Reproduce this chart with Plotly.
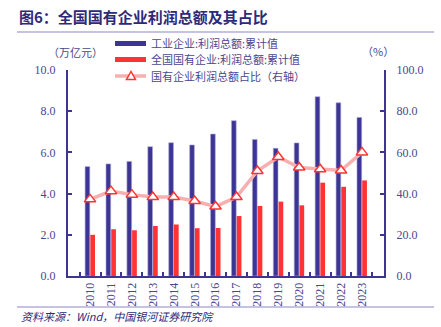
import plotly.graph_objects as go

years = [str(y) for y in range(2010, 2024)]
industrial_profit = [5.31, 5.44, 5.56, 6.28, 6.47, 6.36, 6.89, 7.54, 6.63, 6.20, 6.46, 8.70, 8.41, 7.70]
soe_profit = [2.00, 2.27, 2.22, 2.43, 2.50, 2.32, 2.33, 2.91, 3.40, 3.61, 3.43, 4.53, 4.33, 4.64]
soe_share = [37.2, 41.2, 39.5, 38.3, 38.3, 36.4, 33.7, 38.3, 51.0, 57.8, 52.7, 51.8, 51.2, 60.0]
series_names = ["工业企业:利润总额:累计值", "全国国有企业:利润总额:累计值", "国有企业利润总额占比（右轴）"]

AX = "#3D3590"
TXT = "#4B478F"
C_IND = "#3D3594"
C_SOE = "#FF3333"
C_LINE = "#F7AFAF"
SERIF = "Times New Roman, Liberation Serif, serif"
CJK = "Noto Sans CJK SC"

W, H = 441, 327
L, R, T, B = 68, 57, 70, 51
pw, ph = W - L - R, H - T - B
def px(xp): return (xp - L) / pw
def py(yp): return (H - B - yp) / ph

fig = go.Figure()
fig.add_trace(go.Bar(x=years, y=industrial_profit, name=series_names[0],
                     marker=dict(color=C_IND, line=dict(color="#A9A6D6", width=0.6))))
fig.add_trace(go.Bar(x=years, y=soe_profit, name=series_names[1],
                     marker=dict(color=C_SOE, line=dict(width=0))))
fig.add_trace(go.Scatter(x=years, y=soe_share, name=series_names[2], yaxis="y2",
                         mode="lines+markers",
                         line=dict(color=C_LINE, width=3.5),
                         marker=dict(symbol="triangle-up", size=10, color="white",
                                     line=dict(color=C_SOE, width=1.5))))

fig.update_layout(
    width=W, height=H,
    margin=dict(l=L, r=R, t=T, b=B),
    paper_bgcolor="white", plot_bgcolor="white",
    barmode="group", bargap=0.5, bargroupgap=0.1,
    showlegend=False,
    xaxis=dict(type="category", showline=True, linecolor=AX, linewidth=2,
               ticks="inside", tickson="boundaries", ticklen=4, tickcolor=AX, tickwidth=1.5,
               tickangle=-90, tickfont=dict(family=SERIF, size=12, color=TXT),
               showgrid=False, zeroline=False),
    yaxis=dict(range=[0, 10], dtick=2, tickformat=".1f", showline=True, linecolor=AX, linewidth=2,
               ticks="inside", ticklen=4, tickcolor=AX, tickwidth=1.5,
               tickfont=dict(family=SERIF, size=12, color=TXT), ticklabelstandoff=8,
               showgrid=False, zeroline=False),
    yaxis2=dict(range=[0, 100], dtick=20, tickformat=".1f", overlaying="y", side="right",
                showline=True, linecolor=AX, linewidth=2,
                ticks="inside", ticklen=4, tickcolor=AX, tickwidth=1.5,
                tickfont=dict(family=SERIF, size=12, color=TXT), ticklabelstandoff=8,
                showgrid=False, zeroline=False),
)

def ann(text, x, y, size=11, color=TXT, anchor="left"):
    fig.add_annotation(text=text, x=px(x), y=py(y), xref="paper", yref="paper",
                       xanchor=anchor, yanchor="middle", showarrow=False,
                       font=dict(family=CJK, size=size, color=color))

ann("<b>图6：全国国有企业利润总额及其占比</b>", 17, 17, size=15, color="#2E2A7A")
ann("（万亿元）", 46, 52)
ann("（%）", 360, 51)
ann("<i>资料来源：Wind，中国银河证券研究院</i>", 19, 316, color="#2E2A7A")

# legend (drawn manually for compact spacing and wide swatches)
leg_y = [43.5, 59.5, 76]
fig.add_shape(type="rect", xref="paper", yref="paper", x0=px(115), x1=px(146),
              y0=py(leg_y[0] - 2.5), y1=py(leg_y[0] + 2.5), fillcolor=C_IND, line=dict(width=0))
fig.add_shape(type="rect", xref="paper", yref="paper", x0=px(115), x1=px(146),
              y0=py(leg_y[1] - 2.5), y1=py(leg_y[1] + 2.5), fillcolor=C_SOE, line=dict(width=0))
fig.add_shape(type="line", xref="paper", yref="paper", x0=px(115), x1=px(146),
              y0=py(leg_y[2]), y1=py(leg_y[2]), line=dict(color=C_LINE, width=3.5))
tx, ty = 131, leg_y[2]
fig.add_shape(type="path", xref="paper", yref="paper",
              path=f"M {px(tx-4.5)} {py(ty+3.5)} L {px(tx+4.5)} {py(ty+3.5)} L {px(tx)} {py(ty-4.5)} Z",
              fillcolor="white", line=dict(color=C_SOE, width=1.5))
for name, y in zip(series_names, leg_y):
    ann(name, 149, y, size=11, color=TXT)

for yline in (32, 307):
    fig.add_shape(type="line", xref="paper", yref="paper", x0=px(17), x1=px(434), y0=py(yline), y1=py(yline),
                  line=dict(color="#8C85C8", width=1.2))

fig.write_html("out.html")
